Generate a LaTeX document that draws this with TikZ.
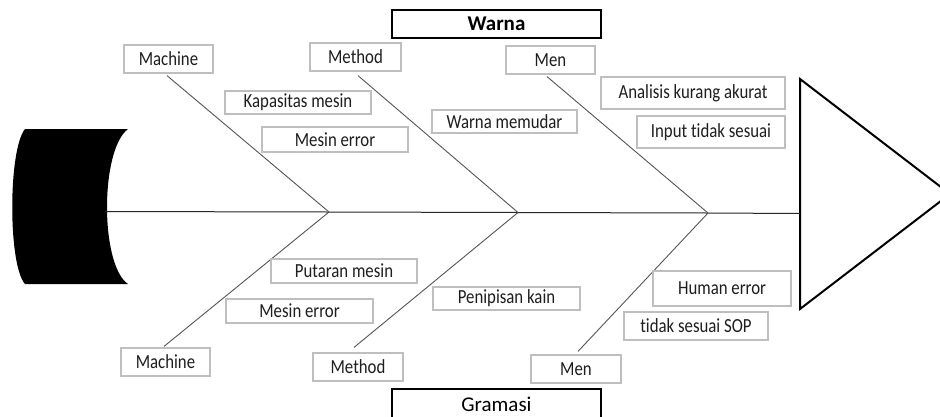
\documentclass[tikz,border=0pt]{standalone}
\usepackage{fontspec}
\setmainfont{Carlito}[Ligatures=NoCommon]
\newfontfamily\lblfont[FakeStretch=0.84,Ligatures=NoCommon]{Carlito}
\definecolor{boxgray}{RGB}{191,191,191}
\definecolor{bonegray}{RGB}{85,85,85}
\definecolor{txt}{RGB}{30,30,30}
\begin{document}
\begin{tikzpicture}[x=1pt,y=-1pt,
  lbl/.style={draw=boxgray,line width=1.2pt,fill=white,inner sep=0pt,text=txt,
    font=\lblfont\fontsize{20}{23}\selectfont},
  ttl/.style={draw=black,line width=2pt,fill=white,inner sep=0pt,text=black,
    minimum width=209pt,font=\fontsize{21}{24}\selectfont},
  bone/.style={draw=bonegray,line width=0.9pt},
  spine/.style={draw=black!85,line width=1pt}]
\useasboundingbox (0,0) rectangle (940,416);
\clip (0,0) rectangle (940,416);
\fill[white] (0,0) rectangle (940,416);

% tail
\fill[black] (25,129) -- (128,129) .. controls (100,150) and (100,265) .. (128,284)
  -- (25,284) .. controls (8,265) and (8,150) .. (25,129);

% head
\draw[line width=2pt,line join=miter] (800,79) -- (950,194) -- (800,309) -- cycle;

% spine coordinates
\coordinate (tailr) at (105,211.5);
\coordinate (j1) at (329,212);
\coordinate (j2) at (518,212.5);
\coordinate (j3) at (708,213);
\coordinate (headl) at (800,213.5);
\draw[spine] (tailr) -- (j1) -- (j2) -- (j3) -- (headl);

% titles
\node[ttl,minimum height=28pt,font=\fontsize{21}{24}\selectfont\bfseries] (warna) at (496.5,24) {Warna};
\node[ttl,minimum height=32pt] (gram) at (496.5,404.5) {Gramasi};

% category boxes
\node[lbl,minimum width=89pt,minimum height=28pt] (mt1) at (168.5,59) {Machine};
\node[lbl,minimum width=91pt,minimum height=28pt] (mt2) at (355.5,57) {Method};
\node[lbl,minimum width=89pt,minimum height=28pt] (mt3) at (550.5,60) {Men};
\node[lbl,minimum width=89pt,minimum height=28pt] (mb1) at (165.5,362) {Machine};
\node[lbl,minimum width=90pt,minimum height=28pt] (mb2) at (358,367) {Method};
\node[lbl,minimum width=90pt,minimum height=28pt] (mb3) at (576,369) {Men};

% bones
\draw[bone] ([xshift=-1.5pt,yshift=-2pt]mt1.south) -- (j1);
\draw[bone] ([xshift=2.5pt,yshift=-4pt]mt2.south) -- (j2);
\draw[bone] ([xshift=-3.5pt,yshift=-2pt]mt3.south) -- (j3);
\draw[bone] ([xshift=-1.5pt,yshift=1pt]mb1.north) -- (j1);
\draw[bone] ([xshift=-4pt,yshift=5pt]mb2.north) -- (j2);
\draw[bone] ([xshift=2pt,yshift=3pt]mb3.north) -- (j3);

% cause boxes
\node[lbl,minimum width=146pt,minimum height=23pt] (c1) at (298,102.5) {Kapasitas mesin};
\node[lbl,minimum width=146pt,minimum height=25pt] (c2) at (335,139.5) {Mesin error};
\node[lbl,minimum width=145pt,minimum height=23pt] (c3) at (504.5,121.5) {Warna memudar};
\node[lbl,minimum width=184pt,minimum height=32pt] (c4) at (693,93) {Analisis kurang akurat};
\node[lbl,minimum width=148pt,minimum height=32pt] (c5) at (711,132) {Input tidak sesuai};
\node[lbl,minimum width=146pt,minimum height=24pt] (d1) at (344,271) {Putaran mesin};
\node[lbl,minimum width=147pt,minimum height=24pt] (d2) at (299.5,311) {Mesin error};
\node[lbl,minimum width=147pt,minimum height=23pt] (d3) at (506.5,298.5) {Penipisan kain};
\node[lbl,minimum width=138pt,minimum height=35pt] (d4) at (722,288.5) {Human error};
\node[lbl,minimum width=144pt,minimum height=28pt] (d5) at (696,326) {tidak sesuai SOP};
\end{tikzpicture}
\end{document}
